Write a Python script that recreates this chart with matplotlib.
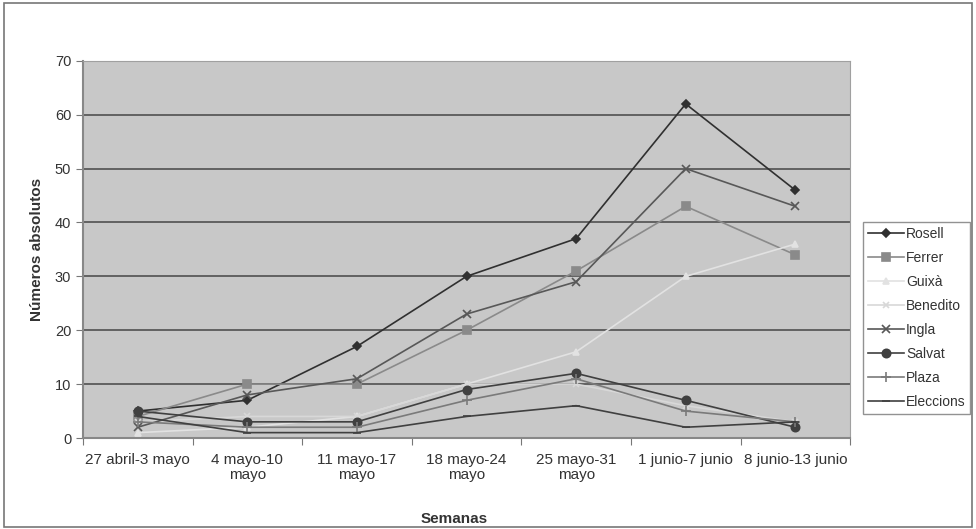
import matplotlib
matplotlib.use("Agg")
import matplotlib.pyplot as plt
from matplotlib.patches import Rectangle

plt.rcParams['font.family'] = ['Liberation Sans', 'DejaVu Sans']

semanas = ["27 abril-3 mayo", "4 mayo-10\nmayo", "11 mayo-17\nmayo", "18 mayo-24\nmayo",
           "25 mayo-31\nmayo", "1 junio-7 junio", "8 junio-13 junio"]

rosell = [5, 7, 17, 30, 37, 62, 46]
ferrer = [4, 10, 10, 20, 31, 43, 34]
guixa = [1, 2, 4, 10, 16, 30, 36]
benedito = [3, 4, 4, 10, 10, 6, 3]
ingla = [2, 8, 11, 23, 29, 50, 43]
salvat = [5, 3, 3, 9, 12, 7, 2]
plaza = [3, 2, 2, 7, 11, 5, 3]
elecciones = [4, 1, 1, 4, 6, 2, 3]

series = [
    ("Rosell", rosell, "#303030", "D", 4.5),
    ("Ferrer", ferrer, "#8a8a8a", "s", 5.5),
    ("Guixà", guixa, "#e2e2e2", "^", 5),
    ("Benedito", benedito, "#d8d8d8", "x", 5),
    ("Ingla", ingla, "#585858", "x", 5.5),
    ("Salvat", salvat, "#404040", "o", 6),
    ("Plaza", plaza, "#7a7a7a", "+", 6.5),
    ("Eleccions", elecciones, "#404040", "_", 6),
]

fig = plt.figure(figsize=(9.76, 5.29), dpi=100)
fig.patches.append(Rectangle((0.004, 0.004), 0.992, 0.990, transform=fig.transFigure,
                             fill=False, edgecolor="#777777", linewidth=1.2))

ax = fig.add_axes([0.085, 0.172, 0.786, 0.713])
ax.set_facecolor("#c8c8c8")

x = list(range(len(semanas)))
for name, vals, color, marker, ms in series:
    ax.plot(x, vals, color=color, marker=marker, markersize=ms, linewidth=1.2,
            markeredgewidth=1.2, label=name, zorder=3)

ax.set_xlim(-0.5, len(semanas) - 0.5)
ax.set_ylim(0, 70)
ax.set_yticks(range(0, 71, 10))
ax.yaxis.grid(True, color="#505050", linewidth=1.2)
ax.set_axisbelow(True)
ax.set_xticks([i + 0.5 for i in range(-1, len(semanas))], minor=False)
ax.set_xticklabels([])
ax.set_xticks(x, minor=True)
ax.set_xticklabels(semanas, minor=True, fontsize=11, color="#333333", linespacing=1.1)
ax.tick_params(axis="x", which="minor", length=0, pad=11)
ax.tick_params(axis="x", which="major", length=5, color="#777777")
ax.tick_params(axis="y", length=5, color="#777777", labelsize=10.5, labelcolor="#333333")

for side in ["top", "right"]:
    ax.spines[side].set_color("#a0a0a0")
for side in ["left", "bottom"]:
    ax.spines[side].set_color("#888888")
    ax.spines[side].set_linewidth(1.5)

ax.set_ylabel("Números absolutos", fontsize=11, fontweight="bold", color="#333333", labelpad=8)
fig.text(0.465, 0.019, "Semanas", fontsize=11, fontweight="bold", color="#333333",
         ha="center", va="center")

leg = fig.legend(loc="upper left", bbox_to_anchor=(0.884, 0.580), fontsize=10,
                 frameon=True, fancybox=False, edgecolor="#777777", handlelength=2.6,
                 handletextpad=0.15, borderpad=0.35, labelspacing=0.72, borderaxespad=0)
leg.get_frame().set_linewidth(1.0)
for t in leg.get_texts():
    t.set_color("#333333")

fig.savefig("out.png", dpi=100)
